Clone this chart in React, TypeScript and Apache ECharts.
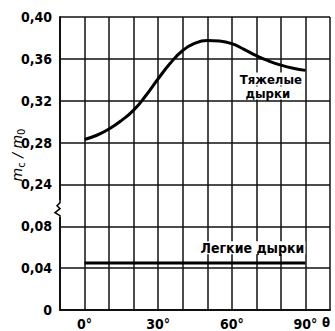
import React, { useEffect, useRef } from 'react';
import * as echarts from 'echarts';

// Broken y axis: lower part 0..0.08, upper part 0.24..0.40, step 0.04
const yTickLabels = ['0', '0,04', '0,08', '0,24', '0,28', '0,32', '0,36', '0,40'];
const yLowerMax = 0.08;
const yUpperMin = 0.24;
const yStep = 0.04;

const xLabelAngles = [0, 30, 60, 90];

// Тяжелые дырки
const heavyAngles = [0, 5, 10, 15, 20, 25, 30, 35, 40, 45, 50, 55, 60, 65, 70, 75, 80, 85, 90];
const heavyValues = [
  0.283, 0.287, 0.293, 0.301, 0.311, 0.325, 0.341, 0.356, 0.368, 0.375,
  0.3775, 0.377, 0.3745, 0.369, 0.363, 0.358, 0.354, 0.351, 0.349,
];

// Легкие дырки
const lightAngles = [0, 90];
const lightValues = [0.045, 0.045];

const FONT = '"DejaVu Sans Condensed", "Liberation Sans Narrow", "DejaVu Sans", sans-serif';

// map a real value onto the broken axis scale
function axisPos(v: number): number {
  if (v <= (yLowerMax + yUpperMin) / 2) return v / yStep;
  return yLowerMax / yStep + 1 + (v - yUpperMin) / yStep;
}

export default function App() {
  const ref = useRef<HTMLDivElement>(null);
  useEffect(() => {
    document.body.style.margin = '0';
    if (!ref.current) return;
    const chart = echarts.init(ref.current, null, { renderer: 'svg' });
    const lineCol = '#111';
    chart.setOption({
      animation: false,
      backgroundColor: '#fff',
      grid: { left: 60, right: 5, top: 17, bottom: 19, show: false },
      xAxis: {
        type: 'value',
        min: -10,
        max: 100,
        interval: 10,
        axisLine: { show: true, onZero: false, lineStyle: { color: lineCol, width: 2 } },
        axisTick: { show: false },
        splitLine: { show: true, lineStyle: { color: lineCol, width: 1.5 } },
        axisLabel: {
          margin: 7,
          color: '#000',
          fontFamily: FONT,
          fontWeight: 'bold',
          fontSize: 14,
          formatter: (v: number) => (xLabelAngles.includes(v) ? v + '°' : ''),
        },
      },
      yAxis: {
        type: 'value',
        min: 0,
        max: yTickLabels.length - 1,
        interval: 1,
        axisLine: { show: true, onZero: false, lineStyle: { color: lineCol, width: 2 } },
        axisTick: { show: false },
        splitLine: { show: true, lineStyle: { color: lineCol, width: 1.5 } },
        axisLabel: {
          margin: 8,
          color: '#000',
          fontFamily: FONT,
          fontWeight: 'bold',
          fontSize: 14,
          formatter: (v: number) => yTickLabels[Math.round(v)] ?? '',
        },
      },
      series: [
        {
          type: 'line',
          name: 'Тяжелые дырки',
          smooth: 0.5,
          symbol: 'none',
          lineStyle: { color: '#000', width: 3 },
          data: heavyAngles.map((a, i) => [a, axisPos(heavyValues[i])]),
          z: 5,
        },
        {
          type: 'line',
          name: 'Легкие дырки',
          symbol: 'none',
          lineStyle: { color: '#000', width: 3 },
          data: lightAngles.map((a, i) => [a, axisPos(lightValues[i])]),
          z: 5,
        },
      ],
    });

    const px = (x: number, y: number) => chart.convertToPixel({ gridIndex: 0 }, [x, y]) as number[];
    const brk = px(-10, 2.42);
    const heavyLbl = px(75.5, axisPos(0.334));
    const lightLbl = px(68.4, axisPos(0.0595));
    const labelStyle = {
      fill: '#000',
      font: `bold 13px ${FONT}`,
      align: 'center',
      verticalAlign: 'middle',
      backgroundColor: '#fff',
      padding: [0, 1],
      lineHeight: 13,
    };
    chart.setOption({
      graphic: [
        {
          type: 'rect',
          shape: { x: brk[0] - 4, y: brk[1] - 8, width: 8, height: 16 },
          style: { fill: '#fff' },
          z: 20,
        },
        {
          type: 'polyline',
          shape: {
            points: [
              [brk[0], brk[1] - 8],
              [brk[0], brk[1] - 6],
              [brk[0] - 3, brk[1] - 3],
              [brk[0], brk[1]],
              [brk[0] - 5, brk[1] + 4],
              [brk[0], brk[1] + 7],
              [brk[0], brk[1] + 8],
            ],
          },
          style: { stroke: '#000', lineWidth: 1.5, fill: null },
          z: 21,
        },
        {
          type: 'text',
          x: heavyLbl[0] + 1,
          y: heavyLbl[1] - 7,
          style: { ...labelStyle, text: 'Тяжелые' },
          z: 22,
        },
        {
          type: 'text',
          x: heavyLbl[0] - 2,
          y: heavyLbl[1] + 7,
          style: { ...labelStyle, text: 'дырки' },
          z: 22,
        },
        {
          type: 'text',
          x: lightLbl[0],
          y: lightLbl[1],
          style: { ...labelStyle, font: `bold 14px ${FONT}`, text: 'Легкие дырки' },
          z: 22,
        },
        {
          type: 'text',
          x: 17,
          y: 155,
          rotation: Math.PI / 2,
          style: {
            text: '{i|m}{s|c}{i| / m}{s|0}',
            align: 'center',
            verticalAlign: 'middle',
            fill: '#000',
            rich: {
              i: { fontFamily: '"DejaVu Sans", sans-serif', fontStyle: 'italic', fontSize: 14, fill: '#000', lineHeight: 18, verticalAlign: 'middle' },
              s: { fontFamily: '"DejaVu Sans", sans-serif', fontSize: 10, fill: '#000', lineHeight: 18, verticalAlign: 'bottom' },
            },
          },
          z: 22,
        },
        {
          type: 'text',
          x: 326,
          y: 322,
          style: { text: 'θ', font: `bold 13px ${FONT}`, fill: '#000', align: 'center', verticalAlign: 'middle', lineHeight: 13 },
          z: 22,
        },
      ],
    });
    return () => chart.dispose();
  }, []);
  return <div ref={ref} style={{ width: 335, height: 331 }} />;
}
